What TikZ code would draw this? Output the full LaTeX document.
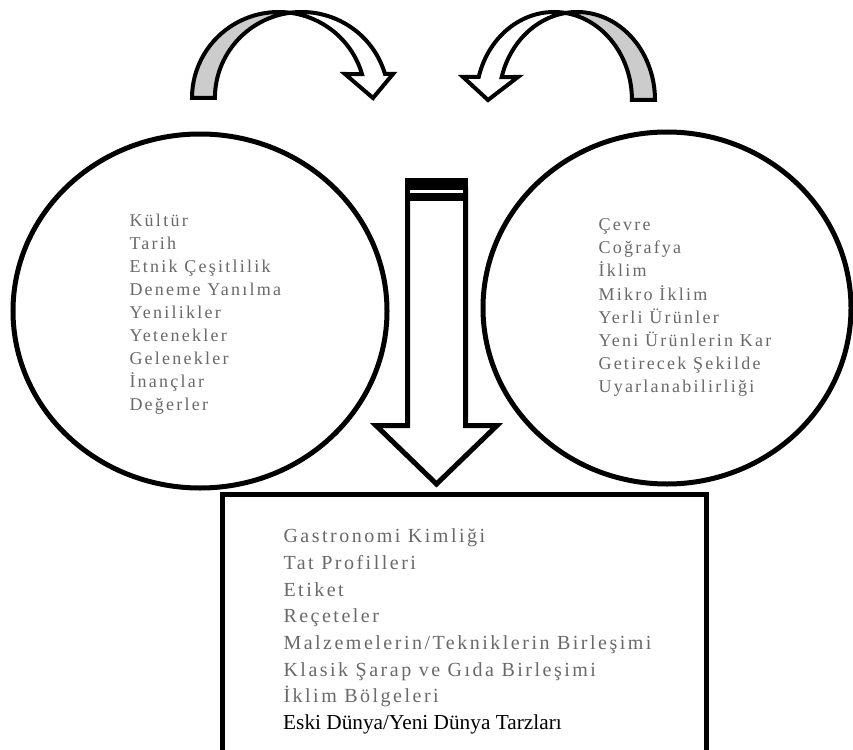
\documentclass[tikz,border=0pt]{standalone}
\usepackage{fontspec}
\setmainfont{Liberation Serif}
\newfontfamily\spaced[LetterSpace=12.5,Ligatures=NoCommon]{Liberation Serif}
\usetikzlibrary{shapes.geometric}
\definecolor{txtgray}{RGB}{105,105,105}
\definecolor{backgray}{RGB}{204,204,204}
\begin{document}
\begin{tikzpicture}[x=1pt,y=1pt,
  outline/.style={draw=black, line width=5pt},
  oval/.style={draw=black, line width=5pt, ellipse, inner sep=0pt},
  curvearrow/.style={draw=black, line width=4pt, line join=miter},
  circtext/.style={anchor=base west, inner sep=0pt, text=txtgray, font=\spaced\fontsize{18}{21}\selectfont},
  boxtext/.style={anchor=base west, inner sep=0pt, text=txtgray, font=\spaced\fontsize{20}{24}\selectfont},
  plaintext/.style={anchor=base west, inner sep=0pt, text=black, font=\fontsize{21.3}{25}\selectfont}]
\useasboundingbox (0,0) rectangle (853,-749);
\clip (0,0) rectangle (853,-749);
\fill[white] (0,0) rectangle (853,-749);

% ovals
\node[oval, minimum width=374pt, minimum height=354pt] (left) at (200,-311) {};
\node[oval, minimum width=368pt, minimum height=352pt] (right) at (667,-308) {};

% bottom box (runs off the page)
\node[draw=black, line width=5pt, rectangle, minimum width=483.5pt, minimum height=320pt, inner sep=0pt] (box) at (464.25,-654) {};

% big down arrow
\draw[outline, fill=white, line join=miter] (407.5,-189) -- (407.5,-425.5) -- (376,-425.5) -- (436.5,-484) -- (497,-425.5) -- (465.5,-425.5) -- (465.5,-189) -- cycle;
\fill[black] (405,-178) rectangle (468,-201);
\draw[white, line width=2.5pt] (410,-191.7) -- (463,-191.7);

% left curved arrow
\filldraw[curvearrow, fill=backgray] (192,-98)
  arc[start angle=180, end angle=82.4, x radius=86.7, y radius=86]
  arc[start angle=97.6, end angle=180, x radius=86.7, y radius=86] -- cycle;
\filldraw[curvearrow, fill=white] (290.17,-12.76)
  arc[start angle=82.4, end angle=16.2, x radius=86.7, y radius=86]
  -- (345,-74) -- (373,-98) -- (393,-74) -- (384.95,-74)
  arc[start angle=16.2, end angle=97.6, x radius=86.7, y radius=86] -- cycle;

% right curved arrow
\filldraw[curvearrow, fill=backgray] (655,-100)
  arc[start angle=0, end angle=98.5, x radius=78, y radius=88]
  arc[start angle=81.5, end angle=0, x radius=78, y radius=88] -- cycle;
\filldraw[curvearrow, fill=white] (565.47,-12.97)
  arc[start angle=98.5, end angle=164.85, x radius=78, y radius=88]
  -- (518,-77) -- (488,-100) -- (463,-77) -- (478.7,-77)
  arc[start angle=164.85, end angle=81.5, x radius=78, y radius=88] -- cycle;

% texts
\foreach \t [count=\i] in {Kültür, Tarih, Etnik Çeşitlilik, Deneme Yanılma, Yenilikler, Yetenekler, Gelenekler, İnançlar, Değerler}
  \node[circtext] (l\i) at (129.3,{-226-(\i-1)*23.1}) {\t};
\foreach \t [count=\i] in {Çevre, Coğrafya, İklim, Mikro İklim, Yerli Ürünler, Yeni Ürünlerin Kar, Getirecek Şekilde, Uyarlanabilirliği}
  \node[circtext] (r\i) at (598.3,{-230.7-(\i-1)*23.14}) {\t};
\foreach \t [count=\i] in {Gastronomi Kimliği, Tat Profilleri, Etiket, Reçeteler, Malzemelerin/Tekniklerin Birleşimi, Klasik Şarap ve Gıda Birleşimi, İklim Bölgeleri}
  \node[boxtext] (b\i) at (283.3,{-542.7-(\i-1)*26.67}) {\t};
\node[plaintext] (b8) at (283,-729.3) {Eski Dünya/Yeni Dünya Tarzları};
\end{tikzpicture}
\end{document}
